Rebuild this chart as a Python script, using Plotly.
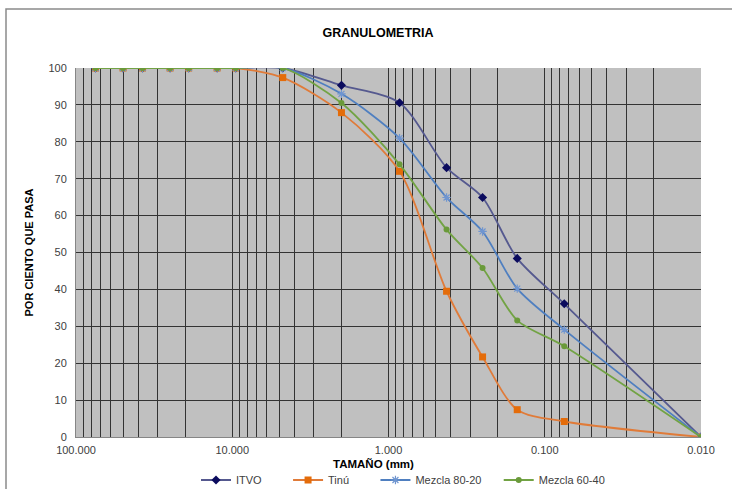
import plotly.graph_objects as go

sizes = [75, 50, 37.5, 25, 19, 12.5, 9.5, 4.75, 2.0, 0.85, 0.425, 0.25, 0.15, 0.075, 0.01]
itvo = [100, 100, 100, 100, 100, 100, 100, 100, 95.3, 90.6, 73.0, 64.9, 48.4, 36.1, 0]
tinu = [100, 100, 100, 100, 100, 100, 100, 97.4, 87.9, 72.0, 39.5, 21.7, 7.4, 4.2, 0]
mezcla_80_20 = [100, 100, 100, 100, 100, 100, 100, 100, 93.0, 81.0, 64.9, 55.7, 40.2, 29.1, 0]
mezcla_60_40 = [100, 100, 100, 100, 100, 100, 100, 100, 90.5, 73.9, 56.2, 45.8, 31.6, 24.6, 0]

x_tick_vals = [100, 10, 1, 0.1, 0.01]
x_tick_text = ["100.000", "10.000", "1.000", "0.100", "0.010"]
y_tick_vals = list(range(0, 101, 10))

minor_vals = [m * 10 ** k for k in range(-2, 2) for m in range(2, 10)]

NB = "\u00a0"
series = [
    ("ITVO", itvo, "#55598f", "#0b0b5e", "diamond", 7, 7),
    ("Tinú", tinu, "#e07b39", "#e46c0a", "square", 7, 7),
    ("Mezcla 80-20", mezcla_80_20, "#4f7fc0", "#6f95d0", "asterisk-open", 7, 4),
    ("Mezcla 60-40", mezcla_60_40, "#72a344", "#6a9a3a", "circle", 6, 0),
]

fig = go.Figure()
for name, vals, lc, mc, sym, ms, pad in series:
    marker = dict(symbol=sym, size=ms, color=mc)
    if sym == "asterisk-open":
        marker["line"] = dict(color=mc, width=1.2)
    fig.add_trace(go.Scatter(
        x=sizes, y=vals, name=name + NB * pad, mode="lines+markers",
        line=dict(color=lc, width=1.8, shape="spline", smoothing=0.8),
        marker=marker,
    ))

fig.update_layout(
    width=732, height=489,
    margin=dict(l=76, r=31, t=68, b=52, autoexpand=False),
    paper_bgcolor="white",
    plot_bgcolor="#c0c0c0",
    font=dict(family="Liberation Sans, Arial, sans-serif", size=11, color="#404040"),
    title=dict(text="<b>GRANULOMETRIA</b>", x=378 / 732, xanchor="center",
               y=1 - 33 / 489, yanchor="middle",
               font=dict(size=12.5, color="#000000")),
    showlegend=True,
    legend=dict(orientation="h", x=403 / 732, xref="container", xanchor="center",
                y=1 - 480 / 489, yref="container", yanchor="middle",
                font=dict(size=11, color="#404040"),
                itemwidth=30, traceorder="normal", bgcolor="rgba(0,0,0,0)"),
    shapes=[dict(type="rect", xref="paper", yref="paper",
                 x0=(6 - 76) / 625, x1=1.2, y0=-0.3, y1=(437.5 - 9) / 369.5,
                 line=dict(color="#8a8a8a", width=1.5), layer="below")],
    annotations=[dict(text="<b>TAMAÑO (mm)</b>", xref="paper", yref="paper",
                      x=(373 - 76) / 625, y=(437.5 - 465) / 369.5,
                      xanchor="center", yanchor="middle", showarrow=False,
                      font=dict(size=11.5, color="#000000"))],
)

fig.update_xaxes(
    type="log", range=[2, -2],
    tickvals=x_tick_vals, ticktext=x_tick_text,
    showgrid=True, gridcolor="#333333", gridwidth=1,
    minor=dict(tickvals=minor_vals, showgrid=True, gridcolor="#333333", gridwidth=1),
    showline=True, linecolor="#868686", linewidth=1,
    ticks="", zeroline=False, ticklabelstandoff=3,
)
fig.update_yaxes(
    range=[0, 100], tickvals=y_tick_vals,
    showgrid=True, gridcolor="#333333", gridwidth=1,
    showline=True, linecolor="#868686", linewidth=1,
    ticks="", zeroline=False, ticklabelstandoff=6,
    title=dict(text="<b>POR CIENTO QUE PASA</b>", font=dict(size=11, color="#000000"), standoff=12),
)

fig.write_html("out.html", config={"displayModeBar": False},
               post_script="document.body.style.margin='0';")
